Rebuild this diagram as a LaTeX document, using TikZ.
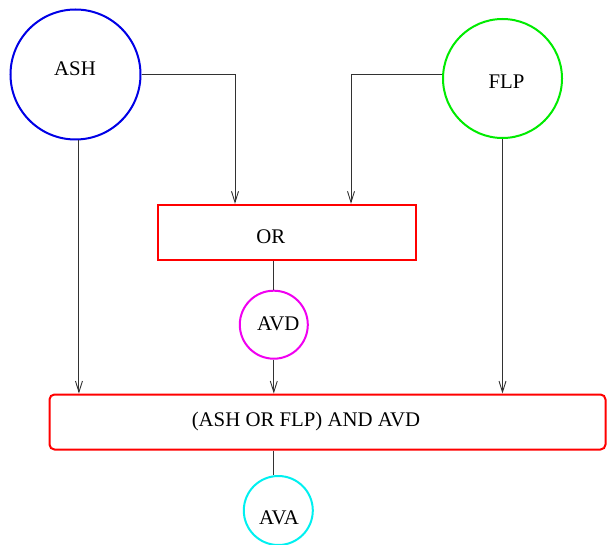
\documentclass[tikz,border=0pt]{standalone}
\usepackage{fontspec}
\setmainfont{Liberation Serif}
\usetikzlibrary{arrows.meta}
\definecolor{cblue}{RGB}{0,0,230}
\definecolor{cgreen}{RGB}{0,235,0}
\definecolor{cred}{RGB}{255,0,0}
\definecolor{cmag}{RGB}{240,0,240}
\definecolor{ccyan}{RGB}{0,240,240}
\definecolor{cline}{RGB}{50,50,50}
\tikzset{
  circ/.style={circle,draw=#1,line width=2pt,inner sep=0pt},
  boxnode/.style={rectangle,draw=cred,line width=2pt,inner sep=0pt},
  txt/.style={font=\fontsize{20.8}{24}\selectfont,inner sep=0pt,text=black},
  conn/.style={draw=cline,line width=1pt},
  arr/.style={conn,-{Straight Barb[length=11pt,width=7pt,line width=0.9pt]}}
}
\begin{document}
\begin{tikzpicture}[x=1pt,y=-1pt]
\useasboundingbox (0,0) rectangle (607,545);
\node[circ=cblue,minimum size=130pt] (ASH) at (75.5,74.5) {};
\node[txt] (ASHt) at ([xshift=-0.5pt,yshift=5.5pt]ASH.center) {ASH};
\node[circ=cgreen,minimum size=119pt] (FLP) at (502.5,78.5) {};
\node[txt] (FLPt) at ([xshift=4pt,yshift=-3.2pt]FLP.center) {FLP};
\node[boxnode,minimum width=258pt,minimum height=55pt] (OR) at (287,232.3) {};
\node[txt] (ORt) at ([xshift=-16.3pt,yshift=-4.4pt]OR.center) {OR};
\node[circ=cmag,minimum size=68pt] (AVD) at (273.8,324.7) {};
\node[txt] (AVDt) at ([xshift=4.5pt,yshift=0.7pt]AVD.center) {AVD};
\node[boxnode,rounded corners=5pt,minimum width=556pt,minimum height=55pt] (BIG) at (327.5,422) {};
\node[txt] (BIGt) at ([xshift=-21.5pt,yshift=1pt]BIG.center) {(ASH OR FLP) AND AVD};
\node[circ=ccyan,minimum size=69pt] (AVA) at (278.3,510.5) {};
\node[txt] (AVAt) at ([xshift=0.7pt,yshift=-7.5pt]AVA.center) {AVA};
% connectors
\draw[arr] (ASH.east) -| ([xshift=78pt]OR.north west);
\draw[arr] (FLP.176) -| ([xshift=194pt]OR.north west);
\draw[arr] (ASH.-87) -- (ASH.-87 |- BIG.north);
\draw[arr] (FLP.south) -- (FLP.south |- BIG.north);
\draw[conn] (AVD.north |- OR.south) -- (AVD.north);
\draw[arr] (AVD.south) -- (AVD.south |- BIG.north);
\draw[conn] (AVA.97 |- BIG.south) -- (AVA.97);
\end{tikzpicture}
\end{document}
